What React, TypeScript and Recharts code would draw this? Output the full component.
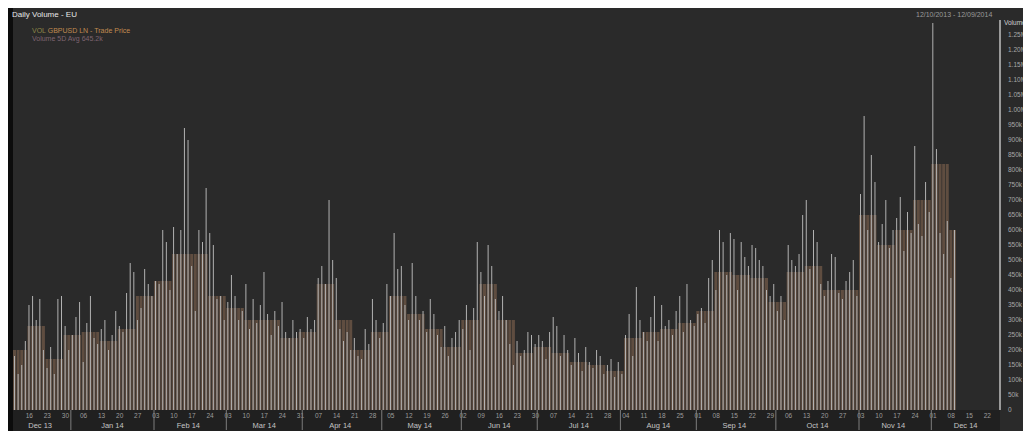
import React from 'react';
import { ComposedChart, Bar, XAxis, YAxis } from 'recharts';

// Daily volume (thousands of shares), one value per trading day
const VOL_DEC13 = [180, 120, 150, 230, 350, 380, 300, 370, 200, 140, 210, 120, 370, 380, 280, 200];
const VOL_JAN14 = [250, 310, 360, 160, 290, 380, 240, 220, 270, 300, 200, 250, 330, 280, 260, 390, 490, 460, 300, 340, 470, 420, 380];
const VOL_FEB14 = [430, 420, 600, 560, 400, 610, 520, 600, 940, 900, 480, 330, 600, 560, 740, 590, 550, 370, 380, 300];
const VOL_MAR14 = [360, 450, 380, 300, 330, 420, 270, 370, 290, 350, 460, 320, 250, 330, 280, 360, 260, 240, 300, 260, 270];
const VOL_APR14 = [240, 310, 270, 300, 440, 480, 420, 700, 500, 440, 270, 230, 260, 200, 240, 180, 170, 270, 220, 370, 300, 240];
const VOL_MAY14 = [290, 420, 380, 590, 470, 480, 350, 300, 490, 380, 300, 330, 260, 370, 320, 250, 210, 280, 180, 240, 260, 300];
const VOL_JUN14 = [270, 350, 200, 340, 560, 460, 380, 550, 480, 370, 330, 380, 300, 220, 150, 230, 180, 200, 260, 250, 220];
const VOL_JUL14 = [250, 230, 170, 260, 310, 280, 180, 250, 200, 150, 240, 190, 130, 210, 160, 140, 200, 180, 120, 150, 170, 110, 160];
const VOL_AUG14 = [120, 250, 320, 180, 410, 300, 260, 230, 310, 380, 230, 350, 280, 300, 250, 330, 380, 260, 420, 300, 280];
const VOL_SEP14 = [320, 340, 290, 440, 500, 400, 600, 560, 450, 590, 570, 400, 560, 510, 480, 550, 540, 500, 480, 400, 380, 420];
const VOL_OCT14 = [330, 380, 300, 550, 500, 480, 520, 650, 700, 470, 600, 560, 420, 380, 430, 520, 510, 390, 370, 430, 460, 500, 380];
const VOL_NOV14 = [720, 980, 600, 850, 760, 560, 620, 700, 540, 600, 640, 710, 530, 660, 590, 880, 620, 580, 760, 660];
const VOL_DEC14 = [1290, 870, 590, 520, 630, 440, 600];

// Weekly average volume (thousands), one value per week starting week of 9 Dec 2013
const WEEKLY_AVG = [
  200, 280, 170, 250, 260, 230, 270, 380, 430, 520,
  520, 380, 340, 300, 300, 240, 260, 420, 300, 200,
  260, 380, 320, 270, 210, 300, 420, 300, 190, 210,
  190, 160, 150, 130, 240, 260, 270, 290, 330, 460,
  450, 440, 360, 460, 480, 400, 400, 650, 550, 600,
  700, 820, 600,
];

const MONTH_LABELS = ['Dec 13', 'Jan 14', 'Feb 14', 'Mar 14', 'Apr 14', 'May 14', 'Jun 14', 'Jul 14', 'Aug 14', 'Sep 14', 'Oct 14', 'Nov 14', 'Dec 14'];
const Y_TICKS = [
  0, 50000, 100000, 150000, 200000, 250000, 300000, 350000, 400000, 450000,
  500000, 550000, 600000, 650000, 700000, 750000, 800000, 850000, 900000, 950000,
  1000000, 1050000, 1100000, 1150000, 1200000, 1250000,
];
const START = [2013, 11, 10];
const END = [2014, 11, 25];

const DAILY = [
  ...VOL_DEC13, ...VOL_JAN14, ...VOL_FEB14, ...VOL_MAR14, ...VOL_APR14, ...VOL_MAY14,
  ...VOL_JUN14, ...VOL_JUL14, ...VOL_AUG14, ...VOL_SEP14, ...VOL_OCT14, ...VOL_NOV14, ...VOL_DEC14,
];

// layout constants (chart pixel space)
const W = 1023;
const H = 423;
const X_AXIS_H = 21;
const AXIS_TOP = H - X_AXIS_H;

type Info = { day?: string; sep?: boolean; month?: string };

function buildDays() {
  const out: { key: string; date: Date }[] = [];
  const d = new Date(Date.UTC(START[0], START[1], START[2]));
  const end = new Date(Date.UTC(END[0], END[1], END[2]));
  while (d.getTime() <= end.getTime()) {
    const wd = d.getUTCDay();
    if (wd !== 0 && wd !== 6) {
      const key = `${d.getUTCFullYear()}-${String(d.getUTCMonth() + 1).padStart(2, '0')}-${String(d.getUTCDate()).padStart(2, '0')}`;
      out.push({ key, date: new Date(d.getTime()) });
    }
    d.setUTCDate(d.getUTCDate() + 1);
  }
  return out;
}

const DAYS = buildDays();
const data = DAYS.map((d, i) => ({
  d: d.key,
  vol: i < DAILY.length ? DAILY[i] * 1000 : null,
  avg: i < DAILY.length ? WEEKLY_AVG[Math.floor((i + 1) / 5)] * 1000 : null,
}));

const tickInfo = new Map<string, Info>();
(() => {
  const groups: { start: number; end: number }[] = [];
  DAYS.forEach((d, i) => {
    const info: Info = {};
    if (d.date.getUTCDay() === 1) info.day = String(d.date.getUTCDate()).padStart(2, '0');
    const prev = DAYS[i - 1];
    if (!prev || prev.date.getUTCMonth() !== d.date.getUTCMonth()) {
      if (prev) info.sep = true;
      groups.push({ start: i, end: i });
    } else {
      groups[groups.length - 1].end = i;
    }
    tickInfo.set(d.key, info);
  });
  groups.forEach((g, gi) => {
    const mid = Math.floor((g.start + g.end) / 2);
    const info = tickInfo.get(DAYS[mid].key)!;
    info.month = MONTH_LABELS[gi];
  });
})();

const FONT = 'Liberation Sans, Arial, sans-serif';

const AxisTick = (props: any) => {
  const { x, payload } = props;
  const info = tickInfo.get(payload.value) || {};
  return (
    <g>
      {info.day && (
        <text x={x} y={AXIS_TOP + 8} textAnchor="middle" fontSize={6.5} fill="#9c9c9c" fontFamily={FONT}>
          {info.day}
        </text>
      )}
      {info.sep && <line x1={x - 1.8} x2={x - 1.8} y1={AXIS_TOP} y2={AXIS_TOP + 20} stroke="#7c7c7c" strokeWidth={1} />}
      {info.month && (
        <text x={x} y={AXIS_TOP + 18} textAnchor="middle" fontSize={7.5} fill="#c4c4c4" fontFamily={FONT}>
          {info.month}
        </text>
      )}
    </g>
  );
};

const fmtY = (v: number) => (v === 0 ? '0' : v >= 1000000 ? `${(v / 1000000).toFixed(2)}M` : `${v / 1000}k`);

const txt: React.CSSProperties = {
  position: 'absolute',
  fontFamily: FONT,
  whiteSpace: 'nowrap',
  lineHeight: 1,
};

export default function App() {
  return (
    <div style={{ position: 'relative', width: W, height: H, background: '#2a2a2a', overflow: 'hidden' }}>
      <div style={{ position: 'absolute', left: 0, top: 0, width: 5, height: H, background: '#0c0c0c' }} />
      <div style={{ position: 'absolute', left: 5, top: AXIS_TOP, width: 987, height: X_AXIS_H, background: '#202020' }} />
      <div style={{ ...txt, left: 4, top: 3, fontSize: 8, color: '#e6e6e6' }}>Daily Volume - EU</div>
      <div style={{ ...txt, left: 24, top: 19, fontSize: 7, color: '#c08a50' }}>
        <span style={{ color: '#8c8648' }}>VOL</span> GBPUSD LN - Trade Price
      </div>
      <div style={{ ...txt, left: 24, top: 27, fontSize: 7, color: '#7e6470' }}>Volume 5D Avg 645.2k</div>
      <div style={{ ...txt, left: 908, top: 3, fontSize: 7, color: '#9a9a9a' }}>12/10/2013 - 12/09/2014</div>
      <div style={{ ...txt, left: 996, top: 12, fontSize: 6.5, color: '#d0d0d0' }}>Volume</div>
      <ComposedChart
        width={W}
        height={H}
        data={data}
        margin={{ top: 12, right: 0, bottom: 0, left: 5 }}
        style={{ position: 'absolute', left: 0, top: 0 }}
      >
        <XAxis xAxisId="bg" dataKey="d" hide />
        <XAxis
          xAxisId="main"
          dataKey="d"
          interval={0}
          height={X_AXIS_H}
          axisLine={false}
          tickLine={false}
          tick={AxisTick}
        />
        <YAxis
          yAxisId="r"
          orientation="right"
          width={31}
          domain={[0, 1300000]}
          ticks={Y_TICKS}
          interval={0}
          tickLine={false}
          axisLine={{ stroke: '#9a9a9a', strokeWidth: 2 }}
          tick={{ fontSize: 6.5, fill: '#a8a8a8', fontFamily: FONT }}
          tickFormatter={fmtY}
        />
        <Bar xAxisId="bg" yAxisId="r" dataKey="avg" barSize={3} fill="#5f4d40" isAnimationActive={false} />
        <Bar xAxisId="main" yAxisId="r" dataKey="vol" barSize={1} fill="#b2b2b2" isAnimationActive={false} />
      </ComposedChart>
    </div>
  );
}
